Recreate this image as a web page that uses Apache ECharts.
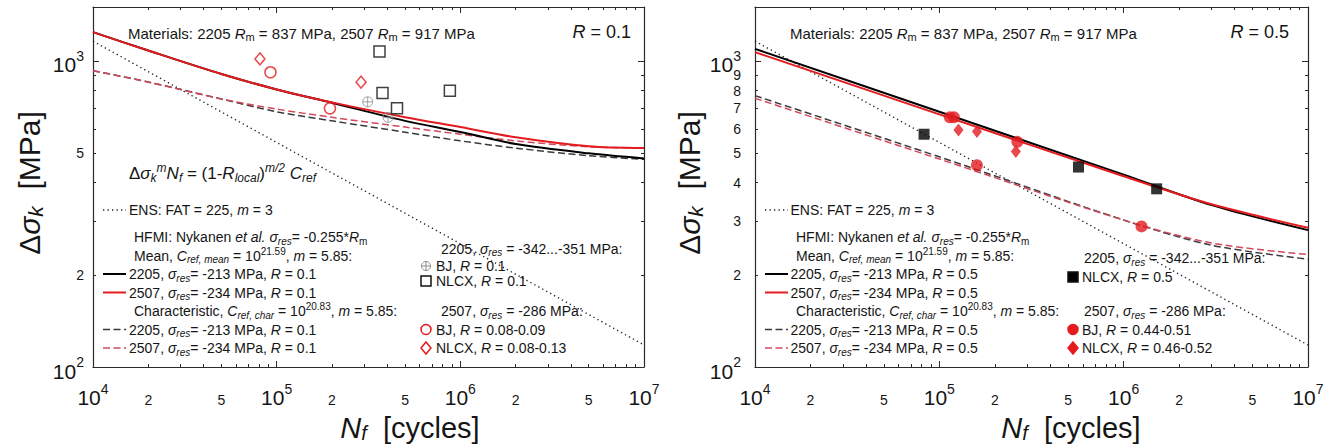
<!DOCTYPE html>
<html>
<head>
<meta charset="utf-8">
<title>S-N curves R=0.1 / R=0.5</title>
<script src="https://cdn.jsdelivr.net/npm/echarts@6/dist/echarts.min.js"></script>
<style>
html,body{margin:0;padding:0;background:#fff;}
#chart{width:1334px;height:448px;}
</style>
</head>
<body>
<div id="chart"></div>
<script>
// ================= DATA =================
const xRange = [1e4, 1e7];
const yRange = [100, 1500];
const xMajorTickLabels = [1e4, 1e5, 1e6, 1e7];
const xMinorTickLabels = [2e4, 5e4, 2e5, 5e5, 2e6, 5e6];
const yMajorTickLabels = [100, 1000];
const yMinorTickLabelsL = [200, 500];
const yMinorTickLabelsR = [200, 300, 400, 500, 600, 700, 800, 900];

// ENS: FAT = 225, m = 3 (both panels)
const ensN = [1e4, 1e7];
const ensS = [1160, 118];

// ---- Left panel, R = 0.1 ----
const curveN_L   = [1e4, 2e4, 5e4, 1e5, 2e5, 5e5, 1e6, 2e6, 5e6, 1e7];
const mean2205_L = [1242, 1081, 906, 807, 730, 637, 586, 535, 499, 480];
const mean2507_L = [1242, 1081, 906, 807, 732, 655, 608, 563, 526, 519];
const char2205_L = [929, 853, 751, 682, 637, 585, 548, 519, 490, 477];
const char2507_L = [929, 853, 751, 696, 654, 608, 576, 548, 524, 519];
const bj2205_L_N   = [3.13e5, 4.04e5];
const bj2205_L_S   = [735, 654];
const nlcx2205_L_N = [3.63e5, 3.77e5, 4.52e5, 8.77e5];
const nlcx2205_L_S = [1073, 785, 701, 799];
const bj2507_L_N   = [9.25e4, 1.95e5];
const bj2507_L_S   = [918, 700];
const nlcx2507_L_N = [8.11e4, 2.88e5];
const nlcx2507_L_S = [1015, 852];

// ---- Right panel, R = 0.5 ----
const curveN_R   = [1e4, 1e5, 1e6, 3e6, 1e7];
const mean2205_R = [1095, 682, 425, 338, 280];
const mean2507_R = [1068, 669, 420, 340, 285];
const char2205_R = [770, 486, 302, 250, 225];
const char2507_R = [755, 478, 302, 254, 233];
const nlcx2205_R_N = [8.26e4, 5.69e5, 1.51e6];
const nlcx2205_R_S = [576, 450, 382];
const bj2507_R_N   = [1.14e5, 1.20e5, 1.60e5, 2.65e5, 1.25e6];
const bj2507_R_S   = [654, 654, 456, 544, 288];
const nlcx2507_R_N = [1.27e5, 1.60e5, 2.60e5];
const nlcx2507_R_S = [595, 588, 506];

// ================= STYLE / BUILD =================
const FF = '"Liberation Sans", Arial, Helvetica, sans-serif';
const INK = '#151515';
const AX = '#2a2a2a';
const RED = '#e41b1f';
const RED_D = '#d3495b';
const GRAY_D = '#3a3a3a';
const NB = '\u00A0';
const L = Math.log10;

function majorVals(lo, hi) { const o = []; for (let e = Math.ceil(L(lo) - 1e-9); e <= Math.floor(L(hi) + 1e-9); e++) o.push(e); return o; }
function minorVals(lo, hi) { const o = []; for (let e = Math.floor(L(lo)); e < Math.ceil(L(hi)); e++) for (let k = 2; k <= 9; k++) { const v = k * Math.pow(10, e); if (v > lo && v < hi) o.push(L(v)); } return o; }

const majRich = {
  b: { fontFamily: FF, fontSize: 21, color: INK, padding: [8, 0, 0, 0] },
  p: { fontFamily: FF, fontSize: 14, color: INK, padding: [0, 0, 10, 0] }
};
const fmtMaj = v => '{b|10}{p|' + Math.round(v) + '}';
const fmtMin = v => String(Math.round(Math.pow(10, v - Math.floor(v + 1e-9))));

const panels = [
  { grid: { left: 93, top: 7, width: 551, height: 360 }, ymargin: 9, yMinorLabels: yMinorTickLabelsL },
  { grid: { left: 755, top: 7, width: 553, height: 360 }, ymargin: 14, yMinorLabels: yMinorTickLabelsR }
];

const grids = [], xAxes = [], yAxes = [];
const off = { show: false };
panels.forEach((P) => {
  const gMain = grids.length; grids.push(Object.assign({}, P.grid));
  const gMin = grids.length; grids.push(Object.assign({}, P.grid));
  const xr = [L(xRange[0]), L(xRange[1])], yr = [L(yRange[0]), L(yRange[1])];
  const lineOn = { show: true, onZero: false, lineStyle: { color: AX, width: 1.2 } };
  const tickMajX = { show: true, inside: true, length: 6, customValues: majorVals(xRange[0], xRange[1]), lineStyle: { color: AX, width: 1 } };
  const tickMinX = { show: true, inside: true, length: 3, customValues: minorVals(xRange[0], xRange[1]), lineStyle: { color: AX, width: 1 } };
  const tickMajY = { show: true, inside: true, length: 6, customValues: majorVals(yRange[0], yRange[1]), lineStyle: { color: AX, width: 1 } };
  const tickMinY = { show: true, inside: true, length: 3, customValues: minorVals(yRange[0], yRange[1]), lineStyle: { color: AX, width: 1 } };
  xAxes.push({ type: 'value', gridIndex: gMain, position: 'bottom', min: xr[0], max: xr[1], splitLine: off, axisLine: lineOn, axisTick: tickMajX,
    axisLabel: { show: true, customValues: xMajorTickLabels.map(L), formatter: fmtMaj, rich: majRich, margin: 12, color: INK } });
  xAxes.push({ type: 'value', gridIndex: gMain, position: 'top', min: xr[0], max: xr[1], splitLine: off, axisLine: lineOn, axisTick: tickMajX, axisLabel: off });
  yAxes.push({ type: 'value', gridIndex: gMain, position: 'left', min: yr[0], max: yr[1], splitLine: off, axisLine: lineOn, axisTick: tickMajY,
    axisLabel: { show: true, customValues: yMajorTickLabels.map(L), formatter: fmtMaj, rich: majRich, margin: P.ymargin, color: INK } });
  yAxes.push({ type: 'value', gridIndex: gMain, position: 'right', min: yr[0], max: yr[1], splitLine: off, axisLine: lineOn, axisTick: tickMajY, axisLabel: off });
  xAxes.push({ type: 'value', gridIndex: gMin, position: 'bottom', min: xr[0], max: xr[1], splitLine: off, axisLine: off, axisTick: tickMinX,
    axisLabel: { show: true, customValues: xMinorTickLabels.map(L), formatter: fmtMin, fontFamily: FF, fontSize: 14, color: INK, margin: 26 } });
  xAxes.push({ type: 'value', gridIndex: gMin, position: 'top', min: xr[0], max: xr[1], splitLine: off, axisLine: off, axisTick: tickMinX, axisLabel: off });
  yAxes.push({ type: 'value', gridIndex: gMin, position: 'left', min: yr[0], max: yr[1], splitLine: off, axisLine: off, axisTick: tickMinY,
    axisLabel: { show: true, customValues: P.yMinorLabels.map(L), formatter: fmtMin, fontFamily: FF, fontSize: 14, color: INK, margin: P.ymargin } });
  yAxes.push({ type: 'value', gridIndex: gMin, position: 'right', min: yr[0], max: yr[1], splitLine: off, axisLine: off, axisTick: tickMinY, axisLabel: off });
});

const pts = (N, S) => N.map((n, i) => [L(n), L(S[i])]);
function lineS(name, ai, N, S, color, width, type, z, smooth) {
  return { type: 'line', name, xAxisIndex: ai, yAxisIndex: ai, data: pts(N, S), symbol: 'none', showSymbol: false,
    smooth: smooth === undefined ? 0.3 : smooth, lineStyle: { color, width, type, cap: 'butt' }, z, silent: true };
}
function scatS(name, ai, N, S, symbol, size, itemStyle) {
  return { type: 'scatter', name, xAxisIndex: ai, yAxisIndex: ai, data: pts(N, S), symbol, symbolSize: size, itemStyle, z: 10, silent: true };
}
const DOT = [1.3, 3.2], DASH = [7, 3.5];
const PLUS_CIRCLE = 'path://M1,11A10,10,0,1,1,21,11A10,10,0,1,1,1,11ZM11,1L11,21M1,11L21,11';

const series = [
  lineS('ENS', 0, ensN, ensS, '#222', 1.4, DOT, 2, false),
  lineS('char 2205', 0, curveN_L, char2205_L, GRAY_D, 1.5, DASH, 3),
  lineS('char 2507', 0, curveN_L, char2507_L, RED_D, 1.5, DASH, 3),
  lineS('mean 2205', 0, curveN_L, mean2205_L, '#000', 2, 'solid', 4),
  lineS('mean 2507', 0, curveN_L, mean2507_L, RED, 2, 'solid', 5),
  scatS('BJ 2205', 0, bj2205_L_N, bj2205_L_S, PLUS_CIRCLE, 10, { color: 'rgba(0,0,0,0)', borderColor: '#8c8c8c', borderWidth: 1 }),
  scatS('NLCX 2205', 0, nlcx2205_L_N, nlcx2205_L_S, 'rect', 11, { color: 'rgba(0,0,0,0)', borderColor: '#111', borderWidth: 1.5 }),
  scatS('BJ 2507', 0, bj2507_L_N, bj2507_L_S, 'circle', 11, { color: 'rgba(0,0,0,0)', borderColor: RED, borderWidth: 1.5 }),
  scatS('NLCX 2507', 0, nlcx2507_L_N, nlcx2507_L_S, 'diamond', [10, 12], { color: 'rgba(0,0,0,0)', borderColor: RED, borderWidth: 1.5 }),
  lineS('ENS', 4, ensN, ensS, '#222', 1.4, DOT, 2, false),
  lineS('char 2205', 4, curveN_R, char2205_R, GRAY_D, 1.5, DASH, 3),
  lineS('char 2507', 4, curveN_R, char2507_R, RED_D, 1.5, DASH, 3),
  lineS('mean 2205', 4, curveN_R, mean2205_R, '#000', 2, 'solid', 4),
  lineS('mean 2507', 4, curveN_R, mean2507_R, RED, 2, 'solid', 5),
  scatS('NLCX 2205', 4, nlcx2205_R_N, nlcx2205_R_S, 'rect', 11, { color: '#000' }),
  scatS('BJ 2507', 4, bj2507_R_N, bj2507_R_S, 'circle', 12, { color: RED }),
  scatS('NLCX 2507', 4, nlcx2507_R_N, nlcx2507_R_S, 'diamond', [10, 13], { color: RED })
];

// ---------- annotation text / legend (graphic) ----------
function richFor(s, subDrop) {
  const sub = Math.round(s * 0.7);
  const drop = Math.round(s * (subDrop || 0.55));
  const base = { fontFamily: FF, fill: INK, color: INK };
  return {
    i:  Object.assign({}, base, { fontSize: s, fontStyle: 'italic' }),
    s:  Object.assign({}, base, { fontSize: sub, padding: [drop, 0, 0, 0] }),
    is: Object.assign({}, base, { fontSize: sub, fontStyle: 'italic', padding: [drop, 0, 0, 0] }),
    p:  Object.assign({}, base, { fontSize: sub, padding: [0, 0, Math.round(s * 0.65), 0] }),
    ip: Object.assign({}, base, { fontSize: sub, fontStyle: 'italic', padding: [0, 0, Math.round(s * 0.65), 0] })
  };
}
function textEl(x, y, text, size, o) {
  o = o || {};
  const al = o.align || 'left';
  return { type: 'text', x, y, rotation: o.rotation || 0, z: 100, silent: true,
    style: { text, fontFamily: FF, fontSize: size, fontStyle: 'normal', fill: INK,
      align: al, textAlign: al, verticalAlign: 'middle', textVerticalAlign: 'middle', rich: richFor(size, o.subDrop) } };
}
function lineEl(x1, x2, y, stroke, w, dash) {
  return { type: 'line', z: 100, silent: true, shape: { x1, y1: y, x2, y2: y }, style: { stroke, lineWidth: w, lineDash: dash || null } };
}

const graphics = [];
function panelText(cfg) {
  const g = graphics, R = cfg.R;
  g.push(textEl(cfg.matX, 33, 'Materials: 2205 {i|R}{s|m} = 837 MPa, 2507 {i|R}{s|m} = 917 MPa', 15));
  g.push(textEl(cfg.rX, 32, '{i|R} = ' + R, 18, { align: 'right' }));
  if (cfg.formula) g.push(textEl(129, 173, 'Δ{i|σ}{is|k}{ip|m}{i|N}{is|f} = (1-{i|R}{is|local}){ip|m/2} {i|C}{is|ref}', 17));
  const r = cfg.rows;
  g.push(lineEl(cfg.sx1, cfg.sx2, r.ens, '#222', 1.4, DOT));
  g.push(textEl(cfg.tx, r.ens, 'ENS: FAT = 225, {i|m} = 3', 14));
  g.push(textEl(cfg.hx, r.hfmi, 'HFMI: Nykanen {i|et al.} {i|σ}{is|res}= -0.255*{i|R}{s|m}', 14));
  g.push(textEl(cfg.hx, r.mean, 'Mean, {i|C}{is|ref, mean} = 10{p|21.59}, {i|m} = 5.85:', 14));
  g.push(lineEl(cfg.sx1, cfg.sx2, r.m2205, '#000', 2));
  g.push(textEl(cfg.tx, r.m2205, '2205, {i|σ}{is|res}= -213 MPa, {i|R} = ' + R, 14));
  g.push(lineEl(cfg.sx1, cfg.sx2, r.m2507, RED, 2));
  g.push(textEl(cfg.tx, r.m2507, '2507, {i|σ}{is|res}= -234 MPa, {i|R} = ' + R, 14));
  g.push(textEl(cfg.hx, r.char, 'Characteristic, {i|C}{is|ref, char} = 10{p|20.83}, {i|m} = 5.85:', 14));
  g.push(lineEl(cfg.sx1, cfg.sx2, r.c2205, GRAY_D, 1.5, DASH));
  g.push(textEl(cfg.tx, r.c2205, '2205, {i|σ}{is|res}= -213 MPa, {i|R} = ' + R, 14));
  g.push(lineEl(cfg.sx1, cfg.sx2, r.c2507, RED_D, 1.5, DASH));
  g.push(textEl(cfg.tx, r.c2507, '2507, {i|σ}{is|res}= -234 MPa, {i|R} = ' + R, 14));
  const c = cfg.col;
  g.push(textEl(c.hx, c.h1, '2205, {i|σ}{is|res} = -342...-351 MPa:', 14));
  c.items.forEach(it => {
    g.push(textEl(c.tx, it.y, it.text, 14));
    const x = c.sx, y = it.y;
    if (it.sym === 'pc') {
      g.push({ type: 'circle', z: 100, silent: true, shape: { cx: x, cy: y, r: 4.5 }, style: { fill: 'none', stroke: '#8c8c8c', lineWidth: 1 } });
      g.push({ type: 'line', z: 100, silent: true, shape: { x1: x - 4.5, y1: y, x2: x + 4.5, y2: y }, style: { stroke: '#8c8c8c', lineWidth: 1 } });
      g.push({ type: 'line', z: 100, silent: true, shape: { x1: x, y1: y - 4.5, x2: x, y2: y + 4.5 }, style: { stroke: '#8c8c8c', lineWidth: 1 } });
    } else if (it.sym === 'rect') {
      g.push({ type: 'rect', z: 100, silent: true, shape: { x: x - 5, y: y - 5, width: 10, height: 10 }, style: { fill: it.fill || 'none', stroke: '#111', lineWidth: 1.5 } });
    } else if (it.sym === 'circle') {
      g.push({ type: 'circle', z: 100, silent: true, shape: { cx: x, cy: y, r: 5 }, style: { fill: it.fill || 'none', stroke: RED, lineWidth: 1.5 } });
    } else if (it.sym === 'diamond') {
      g.push({ type: 'polygon', z: 100, silent: true, shape: { points: [[x, y - 6], [x + 5, y], [x, y + 6], [x - 5, y]] }, style: { fill: it.fill || 'none', stroke: RED, lineWidth: 1.5 } });
    }
  });
  g.push(textEl(c.hx, c.h2, '2507, {i|σ}{is|res} = -286 MPa:', 14));
  g.push(textEl(cfg.yTitleX, 183, 'Δ{i|σ}{is|k}' + NB + NB + '[MPa]', 30, { align: 'center', rotation: Math.PI / 2, subDrop: 0.4 }));
  g.push(textEl(cfg.xTitleX, 428, '{i|N}{is|f}' + NB + NB + '[cycles]', 29, { align: 'center', subDrop: 0.35 }));
}

const rowsY = { ens: 210, hfmi: 237, mean: 255.5, m2205: 274, m2507: 292.5, char: 311, c2205: 329.5, c2507: 348 };
panelText({ R: '0.1', matX: 128, rX: 631, formula: true, sx1: 103, sx2: 126, tx: 129, hx: 134, rows: rowsY,
  yTitleX: 29, xTitleX: 410,
  col: { hx: 441, sx: 426, tx: 436, h1: 248.5, h2: 311, items: [
    { y: 266, sym: 'pc', text: 'BJ, {i|R} = 0.1' },
    { y: 281, sym: 'rect', text: 'NLCX, {i|R} = 0.1' },
    { y: 329.5, sym: 'circle', text: 'BJ, {i|R} = 0.08-0.09' },
    { y: 348, sym: 'diamond', text: 'NLCX, {i|R} = 0.08-0.13' } ] } });
panelText({ R: '0.5', matX: 790, rX: 1289, formula: false, sx1: 765, sx2: 788, tx: 790.5, hx: 796, rows: rowsY,
  yTitleX: 689, xTitleX: 1071,
  col: { hx: 1084, sx: 1073, tx: 1082, h1: 258, h2: 311, items: [
    { y: 277, sym: 'rect', fill: '#000', text: 'NLCX, {i|R} = 0.5' },
    { y: 329.5, sym: 'circle', fill: RED, text: 'BJ, {i|R} = 0.44-0.51' },
    { y: 348, sym: 'diamond', fill: RED, text: 'NLCX, {i|R} = 0.46-0.52' } ] } });

const chart = echarts.init(document.getElementById('chart'), null, { renderer: 'svg', width: 1334, height: 448 });
chart.setOption({
  backgroundColor: '#fff',
  animation: false,
  textStyle: { fontFamily: FF },
  grid: grids,
  xAxis: xAxes,
  yAxis: yAxes,
  series,
  graphic: graphics
});
</script>
</body>
</html>
